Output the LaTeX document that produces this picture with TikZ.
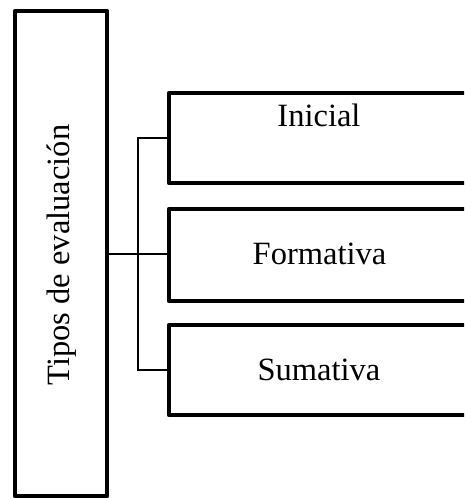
\documentclass[tikz,border=0pt]{standalone}
\usepackage{fontspec}
\setmainfont{Liberation Serif}
\begin{document}
\begin{tikzpicture}[x=1pt,y=-1pt,
  box/.style={draw=black,line width=4.5pt,line join=round,rectangle,inner sep=0pt,outer sep=0pt},
  lbl/.style={font=\fontsize{32.5}{39}\selectfont,inner sep=0pt},
  conn/.style={draw=black,line width=1.5pt}]
\useasboundingbox (0,0) rectangle (464,498);
\clip (0,0) rectangle (464,498);
\node[box,minimum width=92pt,minimum height=485pt] (tipos) at (61,253.5) {};
\node[lbl,rotate=90] (tiposlbl) at (62,255) {Tipos de evaluación};
\node[box,minimum width=301pt,minimum height=90pt] (ini) at (319.5,138) {};
\node[lbl] (inilbl) at (319,115) {Inicial};
\node[box,minimum width=301pt,minimum height=92pt] (form) at (319.5,255) {};
\node[lbl] (formlbl) at (319.5,254) {Formativa};
\node[box,minimum width=301pt,minimum height=90pt] (suma) at (319.5,370) {};
\node[lbl] (sumalbl) at (319,370) {Sumativa};
\coordinate (jt) at (138,138);
\coordinate (jb) at (138,370);
\draw[conn] (tipos.east |- 0,254) -- (form.west |- 0,254);
\draw[conn] (ini.west) -- (jt) -- (jb) -- (suma.west);
\end{tikzpicture}
\end{document}
